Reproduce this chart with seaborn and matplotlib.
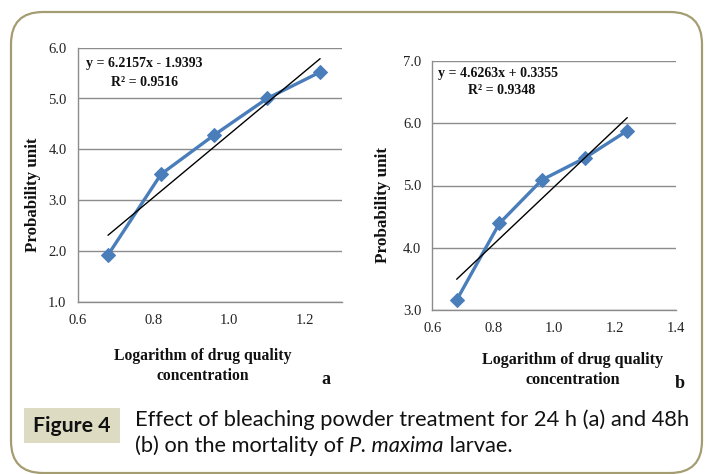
import matplotlib
matplotlib.use("Agg")
import matplotlib.pyplot as plt
import matplotlib.patches as mpatches
from matplotlib.transforms import IdentityTransform
import seaborn as sns
import pandas as pd

# ---------------- data ----------------
log_conc = [0.68, 0.82, 0.96, 1.10, 1.24]
probit_24h = [1.92, 3.51, 4.28, 5.00, 5.52]
probit_48h = [3.16, 4.39, 5.09, 5.44, 5.88]
eq_24h = ["y = 6.2157x - 1.9393", "R\u00b2 = 0.9516"]
eq_48h = ["y = 4.6263x + 0.3355", "R\u00b2 = 0.9348"]
yticks_a = [1.0, 2.0, 3.0, 4.0, 5.0, 6.0]
yticks_b = [3.0, 4.0, 5.0, 6.0, 7.0]
xticks_a = [0.6, 0.8, 1.0, 1.2]
xticks_b = [0.6, 0.8, 1.0, 1.2, 1.4]
ylabel = "Probability unit"
xlabel_lines = ["Logarithm of drug quality", "concentration"]
panel_tags = ["a", "b"]
fig_tag = "Figure 4"
caption_1 = "Effect of bleaching powder treatment for 24 h (a) and 48h"
caption_2 = ["(b) on the mortality of ", "P. maxima", " larvae."]

df_a = pd.DataFrame({"x": log_conc, "y": probit_24h})
df_b = pd.DataFrame({"x": log_conc, "y": probit_48h})

sns.set_theme(style="white")
plt.rcParams["font.family"] = ["Liberation Serif", "DejaVu Serif"]

W, H = 705, 474
fig = plt.figure(figsize=(W / 100, H / 100), dpi=100)
fig.patch.set_facecolor("white")

BLUE = "#4a7ebb"
GRID = "#8c8c8c"
SERIF = ["Liberation Serif", "DejaVu Serif"]


def px_axes(l, t, r, b):
    return fig.add_axes([l / W, 1 - b / H, (r - l) / W, (b - t) / H])


def draw_panel(ax, df, xlim, ylim, xt, yt, eq, eqpos):
    sns.lineplot(data=df, x="x", y="y", ax=ax, color=BLUE, lw=2.4,
                 marker="D", markersize=7, markeredgecolor=BLUE, zorder=3)
    sns.regplot(data=df, x="x", y="y", ax=ax, scatter=False, ci=None,
                truncate=True, line_kws=dict(color="black", lw=1.0, zorder=4))
    ax.set_xlim(*xlim)
    ax.set_ylim(*ylim)
    ax.set_xticks(xt)
    ax.set_xticklabels([f"{v:.1f}" for v in xt])
    ax.set_yticks(yt)
    ax.set_yticklabels([f"{v:.1f}" for v in yt])
    ax.set_xlabel("")
    ax.set_ylabel("")
    for s in ["top", "right"]:
        ax.spines[s].set_visible(False)
    for s in ["left", "bottom"]:
        ax.spines[s].set_color(GRID)
        ax.spines[s].set_linewidth(1.0)
    ax.yaxis.grid(True, color=GRID, lw=1.0)
    ax.set_axisbelow(True)
    ax.tick_params(axis="both", length=0, labelsize=10.5, colors="#222222")
    ax.tick_params(axis="y", pad=8)
    ax.tick_params(axis="x", pad=9)
    for lab in ax.get_xticklabels() + ax.get_yticklabels():
        lab.set_family(SERIF)
    ax.text(eqpos[0], eqpos[1], eq[0], transform=ax.transAxes, fontsize=10,
            fontweight="bold", family=SERIF, ha="left", va="center", color="#111111")
    ax.text(eqpos[2], eqpos[3], eq[1], transform=ax.transAxes, fontsize=10,
            fontweight="bold", family=SERIF, ha="left", va="center", color="#111111")


# panel a: pixel box l,t,r,b
la, ta, ra, ba = 77.7, 47.7, 341.7, 301.7
ax1 = px_axes(la, ta, ra, ba)
draw_panel(ax1, df_a, (0.6, 1.297), (1.0, 6.0), xticks_a, yticks_a, eq_24h,
           ((86 - la) / (ra - la), 1 - (63 - ta) / (ba - ta),
            (111 - la) / (ra - la), 1 - (82 - ta) / (ba - ta)))

lb, tb, rb, bb = 432.3, 61.0, 676.0, 310.0
ax2 = px_axes(lb, tb, rb, bb)
draw_panel(ax2, df_b, (0.6, 1.4), (3.0, 7.0), xticks_b, yticks_b, eq_48h,
           ((438 - lb) / (rb - lb), 1 - (73 - tb) / (bb - tb),
            (468 - lb) / (rb - lb), 1 - (90 - tb) / (bb - tb)))

fig.canvas.draw()
renderer = fig.canvas.get_renderer()


def ftext(x, y, s, target_w=None, vertical=False, **kw):
    t = fig.text(x / W, 1 - y / H, s, **kw)
    if target_w is not None:
        ext = t.get_window_extent(renderer)
        size = ext.height if vertical else ext.width
        t.set_fontsize(t.get_fontsize() * target_w / size)
    return t


# y labels
ftext(33, 195, ylabel, target_w=114, vertical=True, rotation=90, ha="center",
      va="center", fontsize=11, fontweight="bold", family=SERIF, color="#111111")
ftext(383, 205, ylabel, target_w=116, vertical=True, rotation=90, ha="center",
      va="center", fontsize=11, fontweight="bold", family=SERIF, color="#111111")

# x labels
ftext(203, 356, xlabel_lines[0], target_w=177, ha="center", va="center",
      fontsize=11, fontweight="bold", family=SERIF, color="#111111")
ftext(203, 376, xlabel_lines[1], target_w=93, ha="center", va="center",
      fontsize=11, fontweight="bold", family=SERIF, color="#111111")
ftext(572.5, 360, xlabel_lines[0], target_w=182, ha="center", va="center",
      fontsize=11, fontweight="bold", family=SERIF, color="#111111")
ftext(572.5, 380, xlabel_lines[1], target_w=95, ha="center", va="center",
      fontsize=11, fontweight="bold", family=SERIF, color="#111111")

# panel tags
ftext(326, 380, panel_tags[0], ha="center", va="center", fontsize=13,
      fontweight="bold", family=SERIF, color="#111111")
ftext(680, 383, panel_tags[1], ha="center", va="center", fontsize=13,
      fontweight="bold", family=SERIF, color="#111111")

# rounded border
border = mpatches.FancyBboxPatch((11, H - 473), 691, 461,
                                 boxstyle="round,pad=0,rounding_size=32",
                                 transform=IdentityTransform(), fill=False,
                                 edgecolor="#a59d72", lw=1.6)
fig.add_artist(border)

# Figure 4 label box
box = mpatches.Rectangle((24, H - 443), 96, 35, transform=IdentityTransform(),
                         facecolor="#dedbc3", edgecolor="none")
fig.add_artist(box)
SANS = ["Lato", "DejaVu Sans"]
ftext(72, 426, fig_tag, target_w=78, ha="center", va="center", fontsize=14,
      fontweight="bold", family=SANS, color="#111111")

# caption
c1 = ftext(135, 420, caption_1, target_w=558, ha="left", va="center",
           fontsize=14, family=SANS, color="#111111")
fs = c1.get_fontsize()
x = 135
for i, part in enumerate(caption_2):
    t = ftext(x, 446, part, ha="left", va="center", fontsize=fs,
              family=SANS, style="italic" if i == 1 else "normal", color="#111111")
    x += t.get_window_extent(renderer).width

fig.savefig("out.png", dpi=100, facecolor="white")
